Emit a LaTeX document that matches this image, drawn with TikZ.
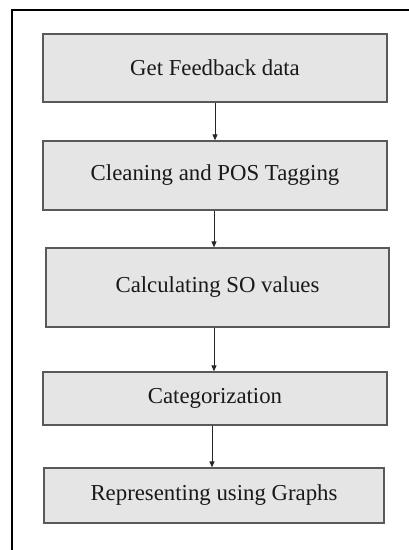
\documentclass[tikz,border=0pt]{standalone}
\usepackage{fontspec}
\setmainfont{Liberation Serif}
\usetikzlibrary{arrows.meta}
\begin{document}
\begin{tikzpicture}[x=1pt,y=-1pt,
  stepbox/.style={draw=black!65, line width=1.3pt, fill=black!10, rectangle, inner sep=0pt,
    font=\fontsize{22.8}{26}\selectfont, text=black!90},
  flow/.style={draw=black!85, line width=0.8pt, -{Triangle[length=6pt,width=5pt]}}]
\useasboundingbox (0,0) rectangle (409,550);
\begin{scope}
\clip (0,0) rectangle (409,550);
\draw[line width=2.4pt] (12,560) -- (12,10) -- (420,10);
\end{scope}
\node[stepbox, minimum width=344pt, minimum height=68pt] (b1) at (215,68) {Get Feedback data};
\node[stepbox, minimum width=344pt, minimum height=69pt] (b2) at (215,175.5) {Cleaning and POS Tagging};
\node[stepbox, minimum width=343pt, minimum height=79pt] (b3) at (217.5,287.5) {Calculating SO values};
\node[stepbox, minimum width=344pt, minimum height=53pt] (b4) at (215,398.5) {Categorization};
\node[stepbox, minimum width=340pt, minimum height=55pt] (b5) at (214,495.5) {Representing using Graphs};
\draw[flow] (b1.south) -- (b2.north);
\draw[flow] ([xshift=-1pt]b2.south) -- ([xshift=-1pt]b2.south |- b3.north);
\draw[flow] ([xshift=-3.5pt]b3.south) -- ([xshift=-3.5pt]b3.south |- b4.north);
\draw[flow] ([xshift=-3pt]b4.south) -- ([xshift=-3pt]b4.south |- b5.north);
\end{tikzpicture}
\end{document}
